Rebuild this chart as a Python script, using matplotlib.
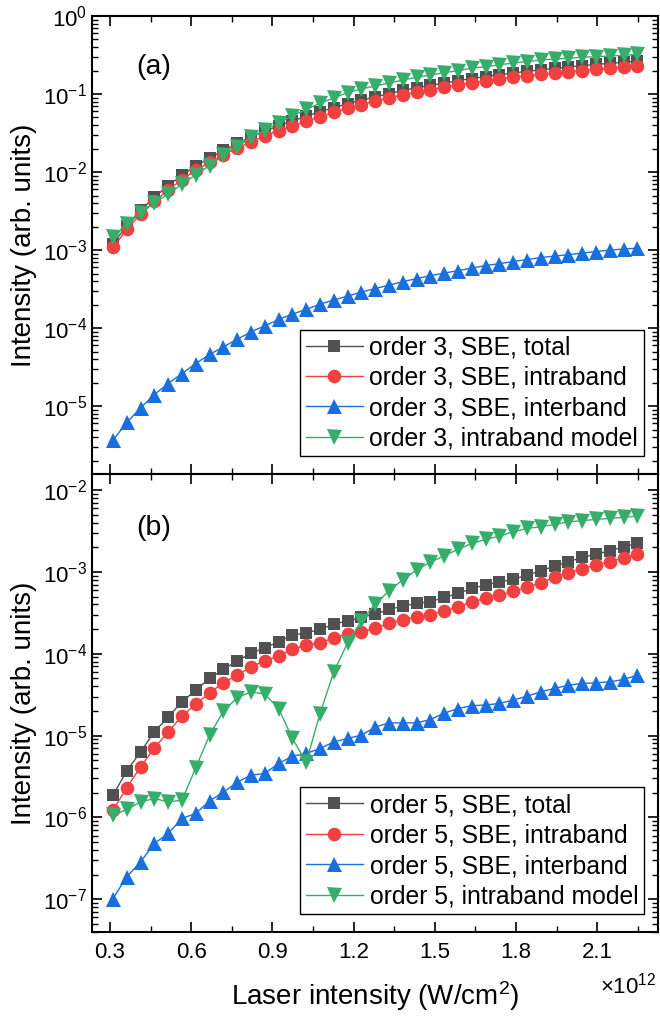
import numpy as np
import matplotlib
matplotlib.use('Agg')
import matplotlib.pyplot as plt
from matplotlib.ticker import LogLocator, MultipleLocator, NullFormatter

plt.rcParams['font.family'] = ['Liberation Sans', 'DejaVu Sans']
plt.rcParams['mathtext.fontset'] = 'custom'
plt.rcParams['mathtext.rm'] = 'Liberation Sans'
plt.rcParams['mathtext.it'] = 'Liberation Sans:italic'
plt.rcParams['axes.unicode_minus'] = False

# laser intensity in units of 1e12 W/cm^2
laser_intensity = [0.311, 0.362, 0.413, 0.464, 0.515, 0.566, 0.617, 0.668, 0.719, 0.770,
                   0.821, 0.872, 0.923, 0.974, 1.025, 1.076, 1.127, 1.178, 1.229, 1.280,
                   1.331, 1.382, 1.433, 1.484, 1.535, 1.586, 1.637, 1.688, 1.739, 1.790,
                   1.841, 1.892, 1.943, 1.994, 2.045, 2.096, 2.147, 2.198, 2.249]

# (a) order 3
total_3 = [1.2e-3, 2.05e-3, 3.25e-3, 4.75e-3, 6.7e-3, 9.1e-3, 1.2e-2, 1.52e-2, 1.89e-2, 2.33e-2,
           2.82e-2, 3.34e-2, 3.92e-2, 4.5e-2, 5.2e-2, 5.9e-2, 6.7e-2, 7.5e-2, 8.3e-2, 9.2e-2,
           0.101, 0.111, 0.120, 0.129, 0.138, 0.148, 0.158, 0.167, 0.176, 0.186,
           0.195, 0.204, 0.213, 0.222, 0.231, 0.239, 0.247, 0.255, 0.263]
intra_3 = [1.08e-3, 1.84e-3, 2.9e-3, 4.2e-3, 5.9e-3, 8.0e-3, 1.05e-2, 1.33e-2, 1.65e-2, 2.03e-2,
           2.45e-2, 2.9e-2, 3.4e-2, 3.9e-2, 4.5e-2, 5.1e-2, 5.8e-2, 6.6e-2, 7.3e-2, 8.1e-2,
           8.9e-2, 9.8e-2, 0.106, 0.114, 0.122, 0.131, 0.139, 0.147, 0.155, 0.163,
           0.171, 0.178, 0.186, 0.193, 0.200, 0.207, 0.214, 0.221, 0.228]
inter_3 = [3.66e-6, 6.18e-6, 9.5e-6, 1.41e-5, 1.95e-5, 2.62e-5, 3.52e-5, 4.6e-5, 5.75e-5, 7.2e-5,
           8.97e-5, 1.07e-4, 1.29e-4, 1.51e-4, 1.74e-4, 2.03e-4, 2.29e-4, 2.57e-4, 2.90e-4, 3.21e-4,
           3.56e-4, 3.94e-4, 4.31e-4, 4.71e-4, 5.07e-4, 5.46e-4, 5.88e-4, 6.33e-4, 6.71e-4, 7.12e-4,
           7.56e-4, 8.02e-4, 8.38e-4, 8.75e-4, 9.16e-4, 9.57e-4, 1.0e-3, 1.03e-3, 1.06e-3]
model_3 = [1.46e-3, 2.15e-3, 2.95e-3, 4.04e-3, 5.2e-3, 7.0e-3, 9.2e-3, 1.21e-2, 1.65e-2, 2.11e-2,
           2.79e-2, 3.45e-2, 4.28e-2, 5.22e-2, 6.37e-2, 7.6e-2, 8.9e-2, 0.1045, 0.116, 0.127,
           0.138, 0.151, 0.164, 0.175, 0.188, 0.199, 0.214, 0.224, 0.236, 0.250,
           0.260, 0.273, 0.281, 0.287, 0.296, 0.301, 0.307, 0.313, 0.323]

# (b) order 5
total_5 = [1.87e-6, 3.70e-6, 6.32e-6, 1.11e-5, 1.69e-5, 2.58e-5, 3.59e-5, 4.99e-5, 6.43e-5, 8.19e-5,
           1.01e-4, 1.18e-4, 1.40e-4, 1.69e-4, 1.80e-4, 1.98e-4, 2.30e-4, 2.52e-4, 2.78e-4, 3.05e-4,
           3.48e-4, 3.82e-4, 4.12e-4, 4.31e-4, 4.88e-4, 5.46e-4, 6.28e-4, 6.90e-4, 7.57e-4, 8.10e-4,
           9.14e-4, 1.03e-3, 1.18e-3, 1.33e-3, 1.50e-3, 1.65e-3, 1.81e-3, 2.03e-3, 2.23e-3]
intra_5 = [1.22e-6, 2.31e-6, 4.14e-6, 7.07e-6, 1.11e-5, 1.73e-5, 2.42e-5, 3.33e-5, 4.41e-5, 5.47e-5,
           6.91e-5, 8.19e-5, 9.35e-5, 1.13e-4, 1.27e-4, 1.36e-4, 1.56e-4, 1.74e-4, 1.85e-4, 2.04e-4,
           2.35e-4, 2.60e-4, 2.82e-4, 3.01e-4, 3.32e-4, 3.74e-4, 4.31e-4, 4.74e-4, 5.20e-4, 5.82e-4,
           6.47e-4, 7.36e-4, 8.57e-4, 9.59e-4, 1.10e-3, 1.21e-3, 1.33e-3, 1.49e-3, 1.65e-3]
inter_5 = [1.02e-7, 1.88e-7, 2.86e-7, 4.80e-7, 6.36e-7, 9.70e-7, 1.12e-6, 1.59e-6, 2.03e-6, 2.69e-6,
           3.28e-6, 3.44e-6, 4.56e-6, 5.60e-6, 6.04e-6, 6.95e-6, 8.37e-6, 9.22e-6, 1.01e-5, 1.27e-5,
           1.43e-5, 1.43e-5, 1.43e-5, 1.57e-5, 1.88e-5, 2.14e-5, 2.32e-5, 2.36e-5, 2.47e-5, 2.71e-5,
           3.03e-5, 3.42e-5, 3.77e-5, 4.13e-5, 4.33e-5, 4.41e-5, 4.53e-5, 4.85e-5, 5.47e-5]
model_5 = [1.06e-6, 1.25e-6, 1.55e-6, 1.70e-6, 1.55e-6, 1.62e-6, 4.06e-6, 1.01e-5, 1.99e-5, 2.90e-5,
           3.42e-5, 3.21e-5, 2.14e-5, 9.22e-6, 4.73e-6, 1.86e-5, 6.01e-5, 1.36e-4, 2.52e-4, 4.04e-4,
           5.87e-4, 8.00e-4, 1.06e-3, 1.31e-3, 1.58e-3, 1.88e-3, 2.23e-3, 2.49e-3, 2.74e-3, 3.09e-3,
           3.40e-3, 3.56e-3, 3.81e-3, 4.09e-3, 4.22e-3, 4.39e-3, 4.51e-3, 4.64e-3, 4.81e-3]

series_labels = ['SBE, total', 'SBE, intraband', 'SBE, interband', 'intraband model']
colors = ['#515151', '#F14040', '#1A6FDF', '#37AD6B']
markers = ['s', 'o', '^', 'v']
marker_sizes = [9, 9.8, 10.8, 10.8]


def style_axis(ax, ylim):
    ax.set_yscale('log')
    ax.set_xlim(0.2335, 2.325)
    ax.set_ylim(*ylim)
    ax.xaxis.set_major_locator(MultipleLocator(0.3))
    ax.xaxis.set_minor_locator(MultipleLocator(0.15))
    ax.yaxis.set_major_locator(LogLocator(base=10, numticks=20))
    ax.yaxis.set_minor_locator(LogLocator(base=10, subs=np.arange(2, 10), numticks=20))
    ax.yaxis.set_minor_formatter(NullFormatter())
    ax.tick_params(which='both', direction='in', top=True, right=True, labelsize=16)
    ax.tick_params(which='major', length=7, width=1.2)
    ax.tick_params(which='minor', length=4, width=1.0)
    ax.tick_params(axis='x', which='major', pad=7)
    for sp in ax.spines.values():
        sp.set_linewidth(1.5)
    ax.set_ylabel('Intensity (arb. units)', fontsize=20, labelpad=4)


def plot_panel(ax, order, data):
    for y, lab, c, m, ms in zip(data, series_labels, colors, markers, marker_sizes):
        ax.plot(laser_intensity, y, color=c, lw=1.0, marker=m, ms=ms,
                markeredgewidth=0, label='order %d, %s' % (order, lab))
    leg = ax.legend(loc='lower right', bbox_to_anchor=(0.975, 0.039), borderaxespad=0,
                    fontsize=17.8, frameon=True, fancybox=False, framealpha=1,
                    edgecolor='black', handlelength=2.3, handletextpad=0.28,
                    borderpad=0.23, labelspacing=0.26)
    leg.get_frame().set_linewidth(1.0)


fig = plt.figure(figsize=(6.6, 10.17), dpi=100)
ax_a = fig.add_axes([0.1394, 0.5339, 0.8576, 0.4504])
ax_b = fig.add_axes([0.1394, 0.0836, 0.8576, 0.4503], sharex=ax_a)

plot_panel(ax_a, 3, [total_3, intra_3, inter_3, model_3])
plot_panel(ax_b, 5, [total_5, intra_5, inter_5, model_5])
style_axis(ax_a, (1.35e-6, 1.0))
style_axis(ax_b, (3.98e-8, 1.57e-2))
ax_a.tick_params(labelbottom=False)

ax_a.text(0.109, 0.889, '(a)', transform=ax_a.transAxes, fontsize=20.5, ha='center', va='center')
ax_b.text(0.109, 0.883, '(b)', transform=ax_b.transAxes, fontsize=20.5, ha='center', va='center')

ax_b.set_xlabel('Laser intensity (W/cm$^2$)', fontsize=20, labelpad=12)
fig.text(0.994, 0.031, r'$\times$10$^{12}$', fontsize=16, ha='right', va='center')

fig.savefig('out.png', dpi=100)
